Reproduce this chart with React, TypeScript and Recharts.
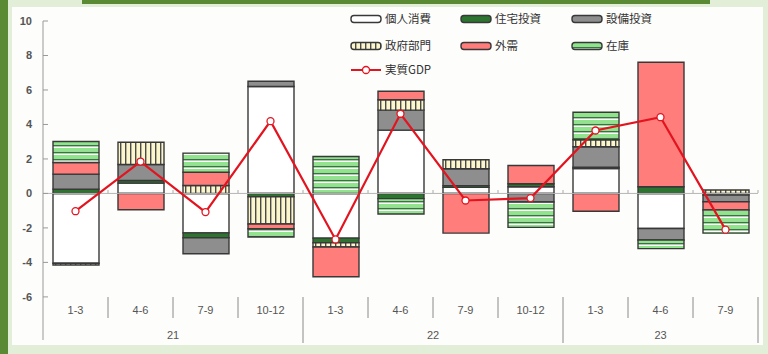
import React from "react"
import { ComposedChart, Bar, Line, XAxis, YAxis, ReferenceLine } from "recharts"

const categories = ["1-3", "4-6", "7-9", "10-12", "1-3", "4-6", "7-9", "10-12", "1-3", "4-6", "7-9"]
const years = ["21", "21", "21", "21", "22", "22", "22", "22", "23", "23", "23"]

const consumption = [-4.05, 0.6, -2.29, 6.2, -2.59, 3.67, 0.35, 0.39, 1.45, -2.03, -0.1]
const housing = [0.25, 0.15, -0.28, -0.19, -0.27, -0.3, 0.1, 0.17, 0.07, 0.39, 0]
const capex = [0.87, 0.93, -0.93, 0.31, 0, 1.16, 0.98, -0.5, 1.19, -0.67, -0.38]
const government = [-0.1, 1.29, 0.46, -1.58, -0.25, 0.6, 0.52, 0, 0.4, 0, 0.2]
const externalDemand = [0.67, -0.95, 0.77, -0.28, -1.72, 0.5, -2.3, 1.06, -1.03, 7.22, -0.48]
const inventory = [1.22, 0, 1.11, -0.48, 2.14, -0.89, 0, -1.47, 1.6, -0.5, -1.34]
const realGdp = [-1.03, 1.85, -1.08, 4.19, -2.67, 4.62, -0.41, -0.27, 3.65, 4.42, -2.1]

const yTicks = [-6, -4, -2, 0, 2, 4, 6, 8, 10]

const data = categories.map((q, i) => ({
  key: i,
  q,
  year: years[i],
  consumption: consumption[i],
  housing: housing[i],
  capex: capex[i],
  government: government[i],
  external: externalDemand[i],
  inventory: inventory[i],
  gdp: realGdp[i],
}))

const series = [
  { key: "consumption", name: "個人消費", fill: "#ffffff" },
  { key: "housing", name: "住宅投資", fill: "#2d7431" },
  { key: "capex", name: "設備投資", fill: "#8e8e8e" },
  { key: "government", name: "政府部門", fill: "url(#govPat)" },
  { key: "external", name: "外需", fill: "#ff7d7b" },
  { key: "inventory", name: "在庫", fill: "url(#invPat)" },
]

const EDGE = "#383838"
const RED = "#e3141f"
const AXIS_X = 43
const BAND = 65
const font = "'Liberation Sans', Arial, sans-serif"
const jpFont = "'Noto Sans CJK JP', sans-serif"

function YTick(props: any) {
  const { y, payload } = props
  return (
    <g>
      <line x1={AXIS_X} x2={AXIS_X + 5} y1={y} y2={y} stroke="#999" />
      <text x={32} y={y + 4} textAnchor="end" fontSize={11} fontWeight="bold" fill="#555" fontFamily={font}>
        {payload.value}
      </text>
    </g>
  )
}

function XTick(props: any) {
  const { x, payload } = props
  const i = payload.index ?? payload.value
  const yr = years[i]
  const first = years.indexOf(yr)
  const last = years.lastIndexOf(yr)
  const endOfYear = i === last
  return (
    <g>
      <text x={x} y={314} textAnchor="middle" fontSize={11} fill="#555" fontFamily={font}>
        {categories[i]}
      </text>
      <line x1={x + BAND / 2} x2={x + BAND / 2} y1={297} y2={endOfYear ? 343 : 318} stroke="#8a8a8a" />
      <line x1={x + BAND / 2} x2={x + BAND / 2} y1={190} y2={193} stroke="#aaa" />
      {i === first && (
        <text x={x + ((last - first) * BAND) / 2} y={339} textAnchor="middle" fontSize={11} fill="#555" fontFamily={font}>
          {yr}
        </text>
      )}
    </g>
  )
}

function Swatch({ x, y, fill }: { x: number; y: number; fill: string }) {
  return <rect x={x} y={y - 3.5} width={30} height={7} rx={3} fill={fill} stroke={EDGE} strokeWidth={1.4} />
}

function Legend() {
  const cols = [351, 461, 572]
  const rows = [19, 46]
  return (
    <svg width={768} height={354} style={{ position: "absolute", left: 0, top: 0 }}>
      <defs>
        <pattern id="govPat" width={5} height={10} patternUnits="userSpaceOnUse">
          <rect width={5} height={10} fill="#fbf6cc" />
          <rect x={0} width={1.4} height={10} fill="#4a4a4a" />
        </pattern>
        <pattern id="invPat" width={10} height={7} patternUnits="userSpaceOnUse">
          <rect width={10} height={7} fill="#ffffff" />
          <rect y={1} width={10} height={3.6} fill="#8fe48c" />
          <rect y={4.8} width={10} height={1.6} fill="#2f7a35" />
        </pattern>
      </defs>
      {series.map((s, i) => {
        const x = cols[i % 3]
        const y = rows[Math.floor(i / 3)]
        return (
          <g key={s.key}>
            <Swatch x={x} y={y} fill={s.fill} />
            <text x={x + 34} y={y + 4} fontSize={11.5} fill="#333" fontFamily={jpFont}>
              {s.name}
            </text>
          </g>
        )
      })}
      <line x1={351} x2={381} y1={70} y2={70} stroke={RED} strokeWidth={2} />
      <circle cx={366} cy={70} r={3.5} fill="#fff" stroke={RED} strokeWidth={1.3} />
      <text x={385} y={74} fontSize={11.5} fill="#333" fontFamily={jpFont}>
        実質GDP
      </text>
    </svg>
  )
}

export default function App() {
  return (
    <div style={{ position: "absolute", left: 0, top: 0, width: 768, height: 354, background: "#e3eed8", overflow: "hidden" }}>
      <div style={{ position: "absolute", left: 0, top: 0, width: 8, height: 354, background: "#5a8a34" }} />
      <div style={{ position: "absolute", left: 82, top: 0, width: 628, height: 4, background: "#5a8a34" }} />
      <div style={{ position: "absolute", left: 12, top: 7, width: 751, height: 338, background: "#fdfdfb" }} />
      <Legend />
      <div style={{ position: "absolute", left: 0, top: 0 }}>
        <ComposedChart
          width={768}
          height={354}
          data={data}
          stackOffset="sign"
          margin={{ top: 21, right: 10, bottom: 0, left: 0 }}
        >
          <XAxis dataKey="key" height={14} axisLine={false} tickLine={false} tick={<XTick />} interval={0} />
          <YAxis
            type="number"
            domain={[-8.5, 10]}
            ticks={yTicks}
            allowDataOverflow
            width={AXIS_X}
            axisLine={{ stroke: "#999" }}
            tickLine={false}
            tick={<YTick />}
          />
          <ReferenceLine y={0} stroke="#b5b5b5" />
          {series.map((s) => (
            <Bar
              key={s.key}
              dataKey={s.key}
              name={s.name}
              stackId="a"
              fill={s.fill}
              stroke={EDGE}
              strokeWidth={1.4}
              barSize={46}
              isAnimationActive={false}
            />
          ))}
          <Line
            dataKey="gdp"
            name="実質GDP"
            stroke={RED}
            strokeWidth={2.2}
            dot={{ r: 3.5, fill: "#fff", stroke: RED, strokeWidth: 1.3 }}
            isAnimationActive={false}
          />
        </ComposedChart>
      </div>
    </div>
  )
}
